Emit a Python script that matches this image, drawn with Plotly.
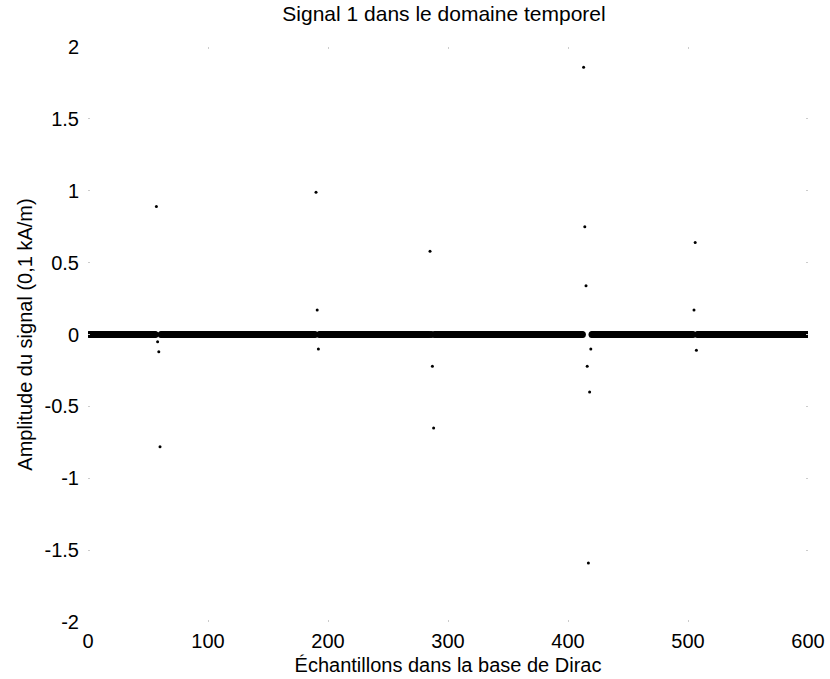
import plotly.graph_objects as go

# ---- data ----
n_samples = 600
outlier_idx = [57, 58, 59, 60, 190, 191, 192, 285, 287, 288,
               413, 414, 415, 416, 417, 418, 419, 505, 506, 507]
outlier_val = [0.89, -0.05, -0.12, -0.78, 0.99, 0.17, -0.10, 0.58, -0.22, -0.65,
               1.86, 0.75, 0.34, -0.22, -1.59, -0.40, -0.10, 0.17, 0.64, -0.11]
baseline_idx = [i for i in range(1, n_samples + 1) if i not in outlier_idx]
baseline_val = [0.0 for _ in baseline_idx]

x_tickvals = [0, 100, 200, 300, 400, 500, 600]
x_ticktext = ["0", "100", "200", "300", "400", "500", "600"]
y_tickvals = [-2, -1.5, -1, -0.5, 0, 0.5, 1, 1.5, 2]
y_ticktext = ["-2", "-1.5", "-1", "-0.5", "0", "0.5", "1", "1.5", "2"]

title_text = "Signal 1 dans le domaine temporel"
x_title = "Échantillons dans la base de Dirac"
y_title = "Amplitude du signal (0,1 kA/m)"

FONT = "Liberation Sans, Arial, Helvetica, sans-serif"

fig = go.Figure()
fig.add_trace(go.Scatter(
    x=baseline_idx, y=baseline_val, mode="markers",
    marker=dict(color="black", size=7, line=dict(width=0)),
    showlegend=False, hoverinfo="x+y",
))
fig.add_trace(go.Scatter(
    x=outlier_idx, y=outlier_val, mode="markers",
    marker=dict(color="black", size=3, line=dict(width=0)),
    showlegend=False, hoverinfo="x+y",
))

fig.update_layout(
    width=830, height=679,
    margin=dict(l=88, r=22, t=47, b=57, autoexpand=False),
    paper_bgcolor="white", plot_bgcolor="white",
    font=dict(family=FONT, color="black", size=20),
    title=dict(text=title_text, x=444 / 830, xanchor="center",
               y=1 - 14 / 679, yanchor="middle", yref="container",
               font=dict(size=21, family=FONT, color="black")),
)
fig.update_xaxes(
    range=[0, 600], tickvals=x_tickvals, ticktext=x_ticktext,
    showgrid=False, zeroline=False, showline=False, automargin=False,
    ticks="inside", ticklen=2, tickcolor="#cccccc", mirror="ticks",
    ticklabelstandoff=5,
    tickfont=dict(size=20, family=FONT, color="black"),
    title=dict(text=x_title, font=dict(size=20, family=FONT, color="black"), standoff=6),
)
fig.update_yaxes(
    range=[-2, 2], tickvals=y_tickvals, ticktext=y_ticktext,
    showgrid=False, zeroline=False, showline=False, automargin=False,
    ticks="inside", ticklen=2, tickcolor="#cccccc", mirror="ticks",
    ticklabelstandoff=8,
    tickfont=dict(size=20, family=FONT, color="black"),
    title=dict(text=y_title, font=dict(size=20, family=FONT, color="black"), standoff=6),
)

fig.write_html("out.html", config={"displayModeBar": False},
               post_script="document.body.style.margin='0';")
